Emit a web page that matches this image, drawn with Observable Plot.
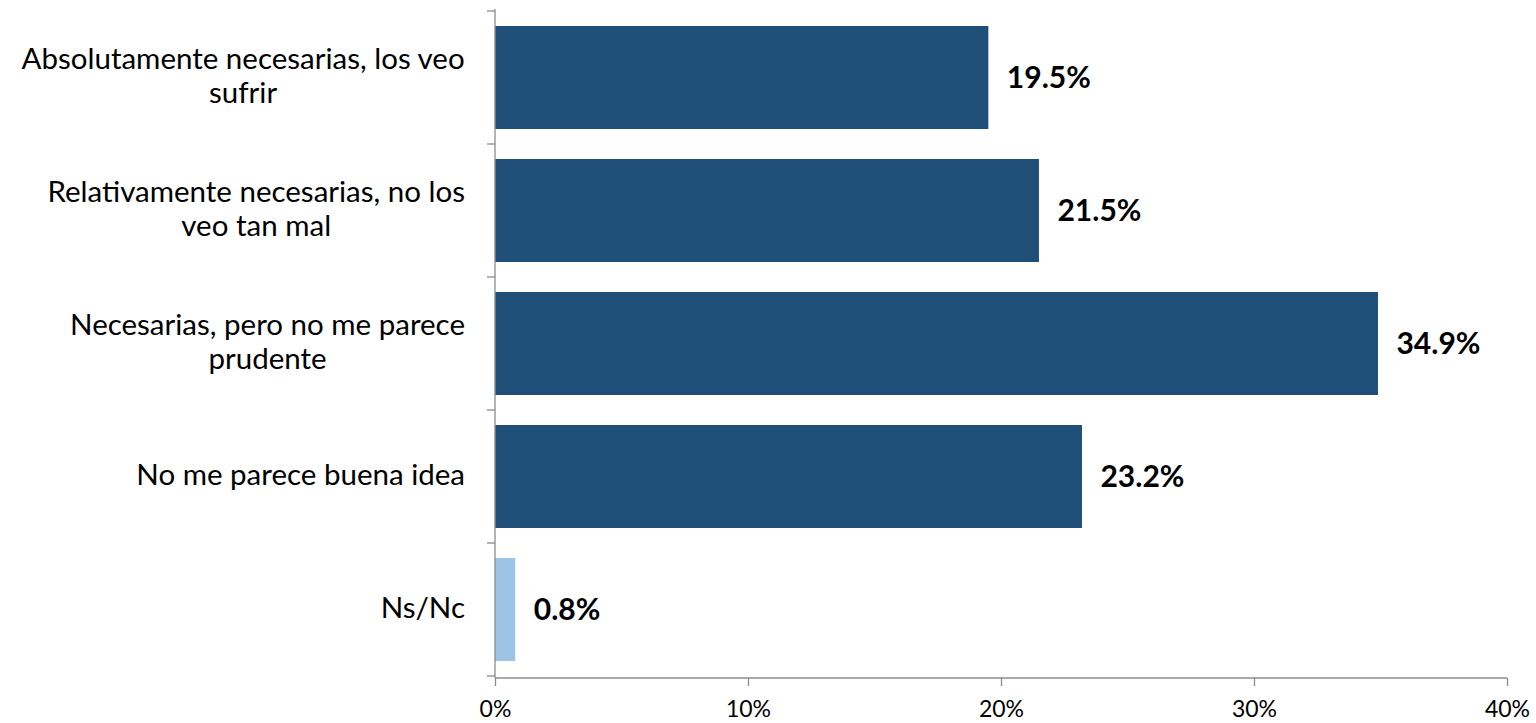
<!DOCTYPE html>
<html><head><meta charset="utf-8">
<script src="https://cdn.jsdelivr.net/npm/d3@7"></script>
<script src="https://cdn.jsdelivr.net/npm/@observablehq/plot@0.6"></script>
<style>body{margin:0;background:#fff}</style>
</head><body><div id="chart"></div>
<script>
const categories = [
  "Absolutamente necesarias, los veo sufrir",
  "Relativamente necesarias, no los veo tan mal",
  "Necesarias, pero no me parece prudente",
  "No me parece buena idea",
  "Ns/Nc"
];
const labelLines = [
  ["Absolutamente necesarias, los veo", "sufrir"],
  ["Relativamente necesarias, no los", "veo tan mal"],
  ["Necesarias, pero no me parece", "prudente"],
  ["No me parece buena idea"],
  ["Ns/Nc"]
];
const values = [19.5, 21.5, 34.9, 23.2, 0.8];
const barColors = ["#1f4e79", "#1f4e79", "#1f4e79", "#1f4e79", "#9dc3e6"];
const xTicks = [0, 10, 20, 30, 40];

const FONT = "Lato, 'Open Sans', sans-serif";
const LABEL_SIZE = 29.5;
const data = categories.map((c, i) => ({cat: c, value: values[i], color: barColors[i], lines: labelLines[i]}));

const ctx = document.createElement("canvas").getContext("2d");
ctx.font = `${LABEL_SIZE}px Lato`;

function axes(index, scales, values, dims) {
  const {x, y} = scales;
  const g = d3.create("svg:g");
  const top = dims.marginTop, bottom = dims.height - dims.marginBottom;
  const x0 = x(0);
  const step = y.step(), bw = y.bandwidth();
  g.append("line").attr("x1", x0).attr("x2", x0).attr("y1", top).attr("y2", bottom)
    .attr("stroke", "#8c8c8c").attr("stroke-width", 1.3);
  const bounds = categories.map(c => y(c) - (step - bw) / 2);
  bounds.push(bounds[bounds.length - 1] + step);
  for (const b of bounds) {
    g.append("line").attr("x1", x0 - 8).attr("x2", x0).attr("y1", b).attr("y2", b)
      .attr("stroke", "#8c8c8c").attr("stroke-width", 1.3);
  }
  g.append("line").attr("x1", x0).attr("x2", x(40)).attr("y1", bottom).attr("y2", bottom)
    .attr("stroke", "#8c8c8c").attr("stroke-width", 1.3);
  const right = x0 - 30;
  data.forEach(d => {
    const w = d3.max(d.lines, l => ctx.measureText(l).width);
    const cx = right - w / 2;
    const cy = y(d.cat) + bw / 2 - 2;
    const lh = 34;
    const t = g.append("text").attr("text-anchor", "middle").attr("font-size", LABEL_SIZE)
      .attr("font-family", FONT).attr("fill", "#000");
    d.lines.forEach((l, i) => {
      t.append("tspan").attr("x", cx).attr("y", cy + (i - (d.lines.length - 1) / 2) * lh).attr("dy", "0.35em").text(l);
    });
  });
  return g.node();
}

const plot = Plot.plot({
  width: 1536, height: 723,
  marginLeft: 495, marginRight: 29, marginTop: 9, marginBottom: 45,
  style: {fontFamily: FONT, background: "transparent", overflow: "visible"},
  x: {domain: [0, 40], axis: null},
  y: {domain: categories, axis: null, paddingInner: 0.224, paddingOuter: 0.112},
  marks: [
    Plot.barX(data, {x: "value", y: "cat", fill: "color"}),
    Plot.text(data, {x: "value", y: "cat", text: d => d.value.toFixed(1) + "%", dx: 18, textAnchor: "start",
      fontWeight: "bold", fontSize: 30, fill: "#000"}),
    Plot.axisX({ticks: xTicks, tickFormat: d => d + "%", tickSize: 8, tickPadding: 14, stroke: "#8c8c8c",
      fill: "#000", fontSize: 23, strokeWidth: 1.3, label: null}),
    axes
  ]
});
document.getElementById("chart").appendChild(plot);
</script>
</body></html>
